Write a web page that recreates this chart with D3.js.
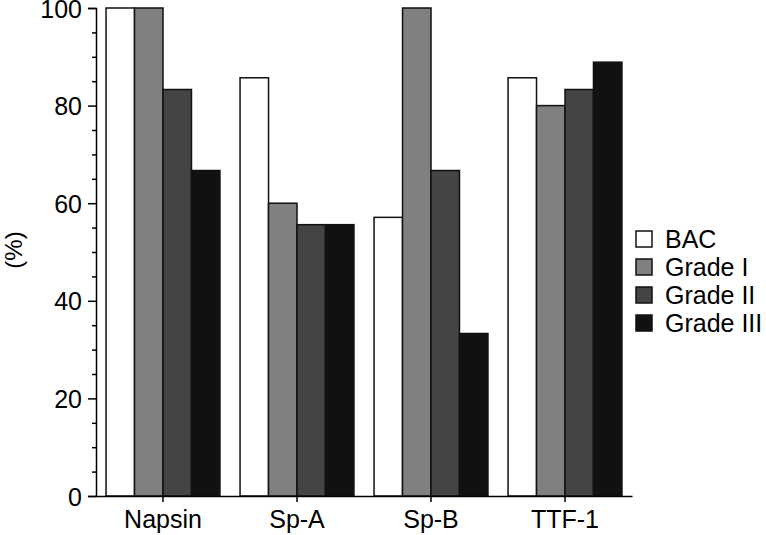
<!DOCTYPE html>
<html><head><meta charset="utf-8">
<script src="https://cdn.jsdelivr.net/npm/d3@7"></script>
<style>body{margin:0;background:#fff}svg{display:block}text{font-family:"Liberation Sans",Arial,Helvetica,sans-serif;fill:#000}</style>
</head><body>
<script>
const categories = ["Napsin", "Sp-A", "Sp-B", "TTF-1"];
const seriesNames = ["BAC", "Grade I", "Grade II", "Grade III"];
const BAC = [100, 85.7, 57.1, 85.7];
const gradeI = [100, 60.0, 100, 80.0];
const gradeII = [83.3, 55.6, 66.7, 83.3];
const gradeIII = [66.7, 55.6, 33.3, 88.9];
const yTicks = [0, 20, 40, 60, 80, 100];
const colors = ["#ffffff", "#808080", "#444444", "#111111"];
const seriesValues = [BAC, gradeI, gradeII, gradeIII];

const W = 766, H = 535;
const svg = d3.select("body").append("svg").attr("width", W).attr("height", H);

const x0 = d3.scaleBand().domain(categories).range([96, 632]).paddingInner(0.15).paddingOuter(0.075);
const x1 = d3.scaleBand().domain(seriesNames).range([0, x0.bandwidth()]);
const y = d3.scaleLinear().domain([0, 100]).range([496, 8]);

// bars
const g = svg.append("g");
categories.forEach((c, ci) => {
  seriesNames.forEach((s, si) => {
    const v = seriesValues[si][ci];
    g.append("rect")
      .attr("x", x0(c) + x1(s))
      .attr("y", y(v))
      .attr("width", x1.bandwidth())
      .attr("height", y(0) - y(v))
      .attr("fill", colors[si])
      .attr("stroke", "#111")
      .attr("stroke-width", 1.5);
  });
});

// y axis
const yAxis = svg.append("g").attr("transform", "translate(96,0)")
  .call(d3.axisLeft(y).tickValues(yTicks).tickSize(8).tickPadding(6));
svg.append("g").attr("transform", "translate(96,0)")
  .call(d3.axisLeft(y).tickValues(d3.range(5, 100, 5).filter(v => v % 20 !== 0)).tickSize(4).tickFormat(""))
  .call(a => a.select(".domain").remove());
svg.selectAll(".tick line").attr("stroke", "#000").attr("stroke-width", 1.5);
yAxis.select(".domain").attr("stroke", "#000").attr("stroke-width", 1.5);
yAxis.selectAll("text").attr("font-size", 25).attr("dy", "0.36em");

// x axis
const xAxis = svg.append("g").attr("transform", "translate(0,496)")
  .call(d3.axisBottom(x0).tickSize(6).tickSizeOuter(0).tickPadding(8));
xAxis.select(".domain").attr("stroke", "#000").attr("stroke-width", 1.5);
xAxis.selectAll(".tick line").attr("stroke", "#000").attr("stroke-width", 1.5);
xAxis.selectAll("text").attr("font-size", 25);

// y label
svg.append("text").attr("transform", "translate(22,250) rotate(-90)")
  .attr("text-anchor", "middle").attr("font-size", 24).text("(%)");

// legend
const leg = svg.append("g").attr("transform", "translate(636,231)");
seriesNames.forEach((s, i) => {
  const row = leg.append("g").attr("transform", `translate(0,${i * 28})`);
  row.append("rect").attr("x", 0).attr("y", 0).attr("width", 16).attr("height", 16)
    .attr("fill", colors[i]).attr("stroke", "#111").attr("stroke-width", 1.5);
  row.append("text").attr("x", 29).attr("y", 17).attr("font-size", 25).text(s);
});
</script>
</body></html>
